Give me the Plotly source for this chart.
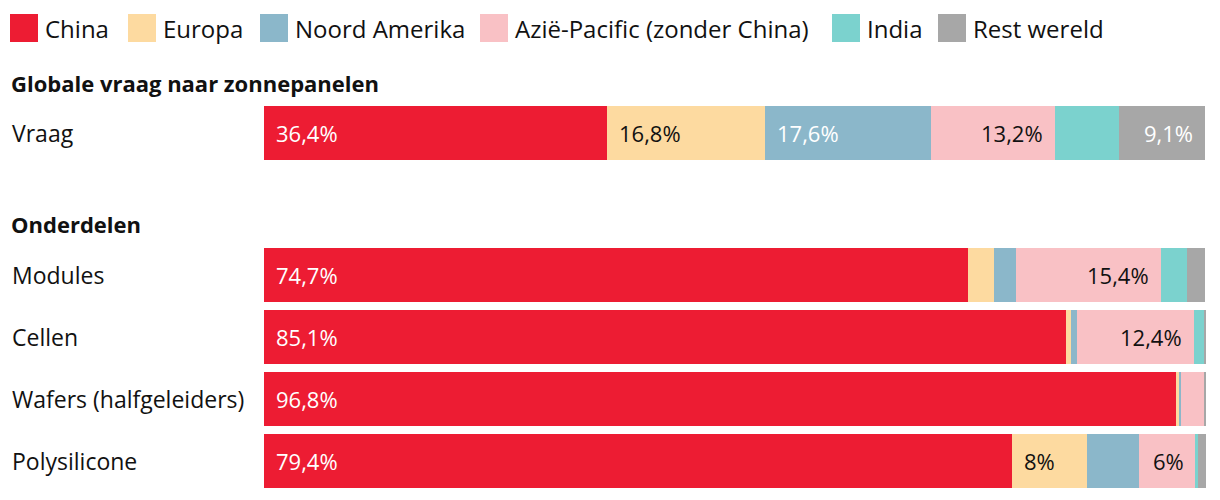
import plotly.graph_objects as go

# ---------------- data ----------------
rows = ["Vraag", "Modules", "Cellen", "Wafers (halfgeleiders)", "Polysilicone"]
regions = ["China", "Europa", "Noord Amerika", "Azië-Pacific (zonder China)", "India", "Rest wereld"]
china = [36.4, 74.7, 85.1, 96.8, 79.4]
europa = [16.8, 2.8, 0.6, 0.4, 8.0]
noord_amerika = [17.6, 2.3, 0.6, 0.1, 5.5]
azie_pacific = [13.2, 15.4, 12.4, 2.5, 6.0]
india = [6.8, 2.8, 1.1, 0.0, 0.2]
rest_wereld = [9.1, 1.9, 0.2, 0.3, 1.0]
headers = ["Globale vraag naar zonnepanelen", "Onderdelen"]

series = [china, europa, noord_amerika, azie_pacific, india, rest_wereld]
colors = ["#ED1C33", "#FDDAA0", "#8BB7CA", "#F9C1C5", "#7BD2CE", "#A7A7A7"]

# which segments get a label: (row index, region index, anchor, text colour)
labels = [
    (0, 0, "start", "white"), (0, 1, "start", "#111111"), (0, 2, "start", "white"),
    (0, 3, "end", "#111111"), (0, 5, "end", "white"),
    (1, 0, "start", "white"), (1, 3, "end", "#111111"),
    (2, 0, "start", "white"), (2, 3, "end", "#111111"),
    (3, 0, "start", "white"),
    (4, 0, "start", "white"), (4, 1, "start", "#111111"), (4, 3, "end", "#111111"),
]

# ---------------- layout helpers ----------------
W, H = 1220, 500
FONT = "Open Sans"
ROW_STEP = 62.0
base_px = 461.0  # pixel centre of last row
row_px = [133, 275, 337, 399, 461]
ypos = [(base_px - p) / ROW_STEP for p in row_px]
yrange = [(base_px - H) / ROW_STEP, base_px / ROW_STEP]
bar_w = 54 / ROW_STEP


def px_x(p):
    return p / W


def px_y(p):
    return 1 - p / H


def fmt(v):
    if abs(v - round(v)) < 1e-9:
        return f"{int(round(v))}%"
    return f"{v:.1f}".replace(".", ",") + "%"


fig = go.Figure()
for name, vals, col in zip(regions, series, colors):
    fig.add_trace(go.Bar(
        y=ypos, x=vals, name=name, orientation="h", width=bar_w,
        marker=dict(color=col, line=dict(width=0)),
        hoverinfo="skip", showlegend=False,
    ))

annotations = []
for r, g, anchor, tcol in labels:
    start = sum(series[k][r] for k in range(g))
    end = start + series[g][r]
    annotations.append(dict(
        x=start if anchor == "start" else end, y=ypos[r], xref="x", yref="y",
        text=fmt(series[g][r]), showarrow=False,
        xanchor="left" if anchor == "start" else "right",
        xshift=10 if anchor == "start" else -10,
        font=dict(family=FONT, size=22, color=tcol),
    ))

for name, yp in zip(rows, ypos):
    annotations.append(dict(
        x=px_x(10), y=yp, xref="paper", yref="y", text=name, showarrow=False,
        xanchor="left", font=dict(family=FONT, size=23, color="#111111"),
    ))

for h, p in zip(headers, [83, 224]):
    annotations.append(dict(
        x=px_x(9), y=px_y(p), xref="paper", yref="paper", text=f"<b>{h}</b>",
        showarrow=False, xanchor="left", yanchor="middle",
        font=dict(family=FONT, size=22, color="#111111"),
    ))

# manual legend
legend_x = [10, 128, 260, 480, 832, 938]
shapes = []
for name, col, lx in zip(regions, colors, legend_x):
    shapes.append(dict(
        type="rect", xref="paper", yref="paper",
        x0=px_x(lx), x1=px_x(lx + 28), y0=px_y(42), y1=px_y(14),
        fillcolor=col, line=dict(width=0),
    ))
    annotations.append(dict(
        x=px_x(lx + 33), y=px_y(28), xref="paper", yref="paper", text=name,
        showarrow=False, xanchor="left", yanchor="middle",
        font=dict(family=FONT, size=24, color="#111111"),
    ))

fig.update_layout(
    barmode="stack", width=W, height=H, autosize=False,
    margin=dict(l=0, r=0, t=0, b=0),
    paper_bgcolor="white", plot_bgcolor="white",
    xaxis=dict(domain=[px_x(264), px_x(1206)], range=[0, 100], visible=False, fixedrange=True),
    yaxis=dict(range=yrange, visible=False, fixedrange=True),
    annotations=annotations, shapes=shapes, showlegend=False,
)

fig.write_html("out.html")
